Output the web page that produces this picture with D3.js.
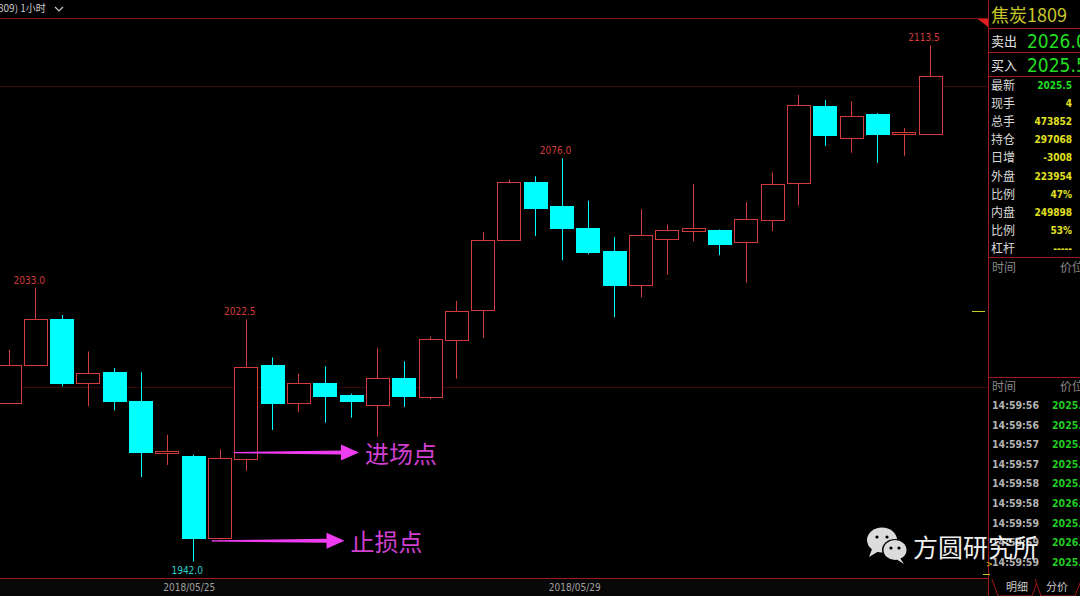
<!DOCTYPE html>
<html><head><meta charset="utf-8">
<script src="https://cdn.jsdelivr.net/npm/d3@7"></script>
<style>
html,body{margin:0;padding:0;background:#000;overflow:hidden}
svg{display:block}
</style></head>
<body>
<svg id="c" width="1080" height="596"></svg>
<script>
// ---- data (1-hour bars, 焦炭1809) ----
const opens  = [1994.9,2007.2,2022.5,2001.4,2004.9,1995.3,1978.2,1977.0,1949.8,1976.3,2007.3,1994.8,2001.4,1997.3,1994.1,2003.0,1996.7,2015.9,2025.4,2048.7,2068.0,2060.0,2052.9,2045.1,2033.8,2049.3,2051.8,2052.3,2048.0,2055.7,2067.9,2093.3,2082.8,2090.7,2084.1,2084.1];
const highs  = [2012.4,2033.0,2023.9,2011.8,2006.3,2004.9,1984.1,1977.5,1979.3,2022.5,2009.8,2004.4,2006.9,1997.8,2012.9,2008.5,2016.8,2028.6,2051.5,2068.9,2070.0,2076.0,2061.9,2049.8,2059.0,2054.0,2067.5,2052.3,2061.4,2071.3,2097.0,2095.3,2095.0,2091.0,2086.1,2113.5];
const lows   = [1994.9,2007.2,2000.2,1993.6,1992.3,1970.1,1974.1,1942.0,1949.3,1972.2,1985.7,1991.7,1988.2,1989.8,1983.5,1993.4,1995.9,2002.7,2016.3,2048.7,2050.2,2042.1,2044.1,2023.2,2029.8,2037.2,2048.4,2043.8,2034.6,2051.8,2060.3,2080.1,2077.8,2074.5,2076.8,2084.1];
const closes = [2007.4,2022.5,2001.1,2004.7,1995.2,1978.2,1978.8,1949.6,1976.3,2006.7,1994.8,2001.4,1997.1,1995.2,2003.0,1997.0,2015.9,2025.4,2048.8,2068.1,2059.2,2052.7,2044.9,2033.8,2050.4,2052.3,2052.9,2047.8,2055.8,2067.5,2093.7,2083.8,2090.0,2084.1,2084.75,2103.3];
const extremeLabels = [{i:1,v:2033.0,t:"high"},{i:9,v:2022.5,t:"high"},{i:7,v:1942.0,t:"low"},{i:21,v:2076.0,t:"high"},{i:35,v:2113.5,t:"high"}];
const dateTicks = [{i:6.85,label:"2018/05/25"},{i:21.5,label:"2018/05/29"}];
const gridPrices = [2000,2100];
const annotations = [{price:1978.2,from:8.55,to:13.3,text:"进场点"},{price:1948.9,from:7.7,to:12.75,text:"止损点"}];
const quoteLabels = ["最新","现手","总手","持仓","日增","外盘","比例","内盘","比例","杠杆"];
const quoteValues = ["2025.5","4","473852","297068","-3008","223954","47%","249898","53%","-----"];
const tickTimes  = ["14:59:56","14:59:56","14:59:57","14:59:57","14:59:58","14:59:58","14:59:59","14:59:59","14:59:59"];
const tickPrices = ["2025.0","2025.5","2025.0","2025.5","2025.0","2026.0","2025.0","2026.0","2025.5"];

const svg = d3.select("#c");
const RED = "#d23c3c", CYAN = "#00ffff", GRID = "#3a0606", FRAME = "#a01818";
const cjk = "'Noto Sans CJK SC','Noto Sans',sans-serif";
const num = "'DejaVu Sans Condensed','DejaVu Sans',sans-serif";

const x = d3.scaleLinear().domain([0, 35]).range([9, 930]);
const y = d3.scaleLinear().domain([2000, 2100]).range([387, 86]);
const bw = 23;

svg.append("rect").attr("width",1080).attr("height",596).attr("fill","#000");
svg.append("rect").attr("x",0).attr("y",579).attr("width",988).attr("height",17).attr("fill","#080808");

// grid lines
svg.selectAll(".grid").data(gridPrices).join("line")
  .attr("x1",0).attr("x2",988).attr("y1",d=>y(d)+0.5).attr("y2",d=>y(d)+0.5)
  .attr("stroke",GRID).attr("stroke-width",1);

// header
svg.append("line").attr("x1",0).attr("x2",988).attr("y1",18.5).attr("y2",18.5).attr("stroke","#8a1010");
svg.append("text").attr("x",-2).attr("y",12).attr("fill","#c8c8c8").attr("font-size",10).attr("font-family",cjk).text("809)   1小时");
svg.append("path").attr("d","M55,7 L59,11 L63,7").attr("fill","none").attr("stroke","#c8c8c8").attr("stroke-width",1.2);
svg.append("path").attr("d","M978,19 L988,19 L988,27 Z").attr("fill","#e02020");

// candles
const idx = d3.range(opens.length);
const g = svg.append("g");
g.selectAll(".wick").data(idx).join("line")
  .attr("x1",i=>Math.round(x(i))+0.5).attr("x2",i=>Math.round(x(i))+0.5)
  .attr("y1",i=>y(highs[i])).attr("y2",i=>y(lows[i]))
  .attr("stroke",i=>closes[i]>=opens[i]?RED:CYAN).attr("stroke-width",1);
g.selectAll(".body").data(idx).join("rect")
  .attr("x",i=>Math.round(x(i)-bw/2)+0.5)
  .attr("y",i=>Math.round(y(Math.max(opens[i],closes[i])))+0.5)
  .attr("width",bw)
  .attr("height",i=>Math.max(1,Math.round(Math.abs(y(opens[i])-y(closes[i])))))
  .attr("fill",i=>closes[i]>=opens[i]?"#000":CYAN)
  .attr("stroke",i=>closes[i]>=opens[i]?RED:CYAN).attr("stroke-width",1);

// extreme labels
svg.selectAll(".ext").data(extremeLabels).join("text")
  .attr("x",d=>x(d.i)-6).attr("y",d=>d.t==="high"?y(d.v)-4:y(d.v)+12)
  .attr("text-anchor","middle").attr("font-size",10).attr("font-family",num)
  .attr("fill",d=>d.t==="high"?RED:"#30d0d0").text(d=>d.v.toFixed(1));

// bottom axis
svg.append("line").attr("x1",0).attr("x2",988).attr("y1",578.5).attr("y2",578.5).attr("stroke",FRAME);
svg.selectAll(".dt").data(dateTicks).join("text")
  .attr("x",d=>x(d.i)).attr("y",591).attr("text-anchor","middle")
  .attr("font-size",10).attr("font-family",num).attr("fill","#a0a0a0").text(d=>d.label);

// annotations (magenta arrows)
const MAG = "#f03cf0";
annotations.forEach(a=>{
  const yy = y(a.price), x0 = x(a.from), x1 = x(a.to);
  const hx = x1 - 18;
  svg.append("path")
    .attr("d",`M${x0},${yy-0.6} L${hx},${yy-2} L${hx},${yy-8} L${x1},${yy} L${hx},${yy+8} L${hx},${yy+2} L${x0},${yy+0.6} Z`)
    .attr("fill",MAG);
  svg.append("text").attr("x",x1+6).attr("y",yy+10).attr("font-size",24)
    .attr("font-family",cjk).attr("fill","#d040d0").text(a.text);
});

// ---- right panel ----
const P = 988;
svg.append("line").attr("x1",P+0.5).attr("x2",P+0.5).attr("y1",0).attr("y2",596).attr("stroke",FRAME);
[28,52,76,257,377].forEach(v=>svg.append("line").attr("x1",P).attr("x2",1080).attr("y1",v+0.5).attr("y2",v+0.5).attr("stroke",FRAME));
svg.append("text").attr("x",991).attr("y",22).attr("font-size",18).attr("font-family",cjk).attr("fill","#c8c828").text("焦炭1809");
svg.append("text").attr("x",991).attr("y",46).attr("font-size",13).attr("font-family",cjk).attr("fill","#e0e0e0").text("卖出");
svg.append("text").attr("x",1027).attr("y",48).attr("font-size",19).attr("font-family",num).attr("fill","#22dd22").text("2026.0");
svg.append("text").attr("x",991).attr("y",70).attr("font-size",13).attr("font-family",cjk).attr("fill","#e0e0e0").text("买入");
svg.append("text").attr("x",1027).attr("y",72).attr("font-size",19).attr("font-family",num).attr("fill","#22dd22").text("2025.5");

svg.selectAll(".ql").data(quoteLabels).join("text")
  .attr("x",991).attr("y",(d,i)=>90+i*18.1).attr("font-size",12).attr("font-family",cjk)
  .attr("fill","#d8d8d8").text(d=>d);
svg.selectAll(".qv").data(quoteValues).join("text")
  .attr("x",1072).attr("y",(d,i)=>89+i*18.1).attr("text-anchor","end").attr("font-size",10)
  .attr("font-weight","bold").attr("font-family",num)
  .attr("fill",(d,i)=>i===0?"#22dd22":"#e0e020").text(d=>d);

[272,391].forEach(v=>{
  svg.append("text").attr("x",992).attr("y",v).attr("font-size",12).attr("font-family",cjk).attr("fill","#888").text("时间");
  svg.append("text").attr("x",1060).attr("y",v).attr("font-size",12).attr("font-family",cjk).attr("fill","#888").text("价位");
});
svg.append("line").attr("x1",972).attr("x2",985).attr("y1",311.5).attr("y2",311.5).attr("stroke","#c8c828");

svg.selectAll(".tt").data(tickTimes).join("text")
  .attr("x",992).attr("y",(d,i)=>409+i*19.6).attr("font-size",10.5).attr("font-weight","bold")
  .attr("font-family",num).attr("fill","#b4b4b4").text(d=>d);
svg.selectAll(".tp").data(tickPrices).join("text")
  .attr("x",1052).attr("y",(d,i)=>409+i*19.6).attr("font-size",10.5).attr("font-weight","bold")
  .attr("font-family",num).attr("fill","#22cc22").text(d=>d);
svg.append("text").attr("x",986).attr("y",567).attr("font-size",9).attr("fill","#e0c020").attr("font-family",num).text(">");
svg.append("line").attr("x1",983).attr("x2",990).attr("y1",574.5).attr("y2",574.5).attr("stroke","#c8c828");

// bottom tabs
svg.append("path").attr("d","M992,579 L998,596 L1032,596 L1038,579").attr("fill","#000").attr("stroke",FRAME);
svg.append("path").attr("d","M1035,579 L1041,596 L1075,596 L1080,583").attr("fill","#000").attr("stroke",FRAME);
svg.append("text").attr("x",1006).attr("y",591).attr("font-size",11).attr("font-family",cjk).attr("fill","#c8c8c8").text("明细");
svg.append("text").attr("x",1046).attr("y",591).attr("font-size",11).attr("font-family",cjk).attr("fill","#c8c8c8").text("分价");

// watermark
const wm = svg.append("g");
wm.append("ellipse").attr("cx",882).attr("cy",540).attr("rx",15).attr("ry",12.5).attr("fill","#dcdcdc");
wm.append("path").attr("d","M872,549 L869,557 L879,551 Z").attr("fill","#dcdcdc");
wm.append("ellipse").attr("cx",895).attr("cy",550).attr("rx",13).attr("ry",11).attr("fill","#000");
wm.append("ellipse").attr("cx",895).attr("cy",550).attr("rx",11.5).attr("ry",10).attr("fill","#dcdcdc");
wm.append("path").attr("d","M900,558 L904,564 L896,559 Z").attr("fill","#dcdcdc");
[[877,537],[887,537],[891,548],[899,548]].forEach(p=>wm.append("circle").attr("cx",p[0]).attr("cy",p[1]).attr("r",1.6).attr("fill","#000"));
wm.append("text").attr("x",913).attr("y",557).attr("font-size",25).attr("font-family",cjk).attr("fill","#f0f0f0").text("方圆研究所");
</script>
</body></html>
